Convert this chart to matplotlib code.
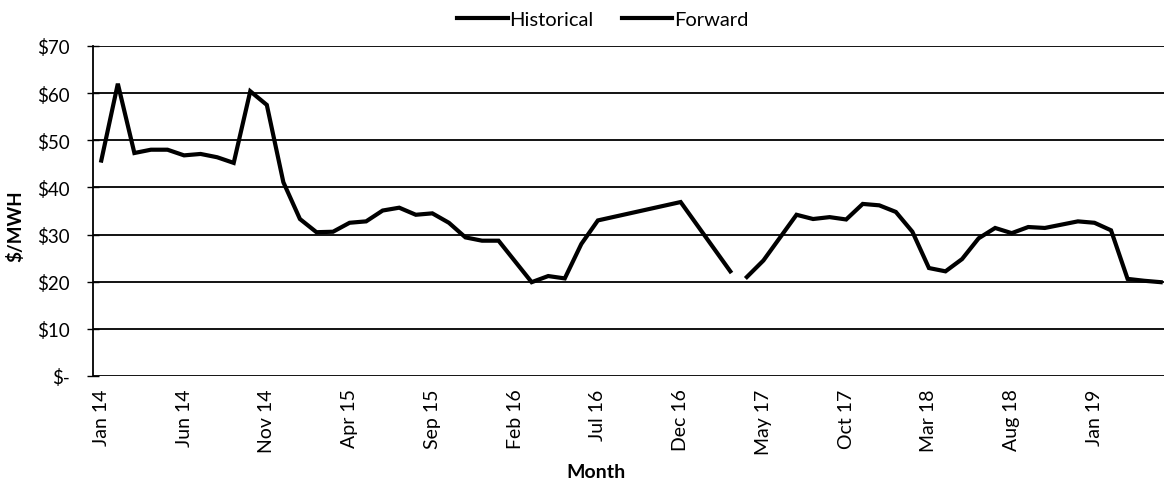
import matplotlib
matplotlib.use("Agg")
import matplotlib.pyplot as plt
import pandas as pd

plt.rcParams['font.family'] = ['Lato', 'DejaVu Sans']

# monthly power prices ($/MWH)
hist_months = ["2014-01", "2014-02", "2014-03", "2014-04", "2014-05", "2014-06",
               "2014-07", "2014-08", "2014-09", "2014-10", "2014-11", "2014-12",
               "2015-01", "2015-02", "2015-03", "2015-04", "2015-05", "2015-06",
               "2015-07", "2015-08", "2015-09", "2015-10", "2015-11", "2015-12",
               "2016-01", "2016-03", "2016-04", "2016-05", "2016-06", "2016-07",
               "2016-12", "2017-03"]
hist_values = [45.7, 62.0, 47.3, 48.0, 48.0, 46.8,
               47.1, 46.4, 45.2, 60.4, 57.5, 41.1,
               33.3, 30.5, 30.6, 32.5, 32.8, 35.1,
               35.7, 34.2, 34.5, 32.5, 29.4, 28.7,
               28.7, 19.9, 21.2, 20.7, 28.0, 33.0,
               36.9, 22.2]

fwd_months = ["2017-04", "2017-05", "2017-07", "2017-08", "2017-09", "2017-10",
              "2017-11", "2017-12", "2018-01", "2018-02", "2018-03", "2018-04",
              "2018-05", "2018-06", "2018-07", "2018-08", "2018-09", "2018-10",
              "2018-11", "2018-12", "2019-01", "2019-02", "2019-03", "2019-04",
              "2019-05"]
fwd_values = [21.0, 24.5, 34.2, 33.3, 33.7, 33.2,
              36.5, 36.2, 34.8, 30.6, 22.9, 22.2,
              24.8, 29.2, 31.4, 30.3, 31.6, 31.4,
              32.1, 32.8, 32.5, 30.9, 20.6, 20.2,
              19.9]

start = pd.Period("2014-01", freq="M")


def month_index(months):
    return [(pd.Period(m, freq="M") - start).n for m in months]


tick_idx = list(range(0, 65, 5))
tick_labels = [(start + i).strftime("%b %y") for i in tick_idx]
y_ticks = [0, 10, 20, 30, 40, 50, 60, 70]
y_labels = ["$-"] + ["$%d" % v for v in y_ticks[1:]]

fig = plt.figure(figsize=(11.64, 4.85), dpi=100)
ax = fig.add_axes([0.0799, 0.2227, 0.9201, 0.6804])

ax.plot(month_index(hist_months), hist_values, color="black", lw=3,
        label="Historical", solid_joinstyle="miter")
ax.plot(month_index(fwd_months), fwd_values, color="black", lw=3,
        label="Forward", solid_joinstyle="miter")

ax.set_xlim(-0.5, 64.2)
ax.set_ylim(0, 70)
ax.set_yticks(y_ticks)
ax.set_yticklabels(y_labels, fontsize=13.5)
ax.set_xticks(tick_idx)
ax.set_xticklabels(tick_labels, rotation=90, fontsize=14)
ax.tick_params(axis="x", length=0, pad=9)
ax.tick_params(axis="y", direction="inout", length=9, width=1, pad=12)

ax.grid(axis="y", color="black", lw=1.3)
ax.set_axisbelow(True)
for s in ["top", "right", "bottom"]:
    ax.spines[s].set_visible(False)
ax.spines["left"].set_linewidth(1.3)

ax.set_ylabel("$/MWH", fontsize=13.5, fontweight="bold")
ax.yaxis.set_label_coords(-0.064, 0.457)
ax.set_xlabel("Month", fontsize=14, fontweight="bold")
ax.xaxis.set_label_coords(0.47, -0.265)

fig.legend(loc="upper center", bbox_to_anchor=(0.518, 1.012), ncol=2,
           frameon=False, fontsize=14.5, handlelength=2.5, columnspacing=1.4,
           handletextpad=0.1)

fig.savefig("out.png", dpi=100)
